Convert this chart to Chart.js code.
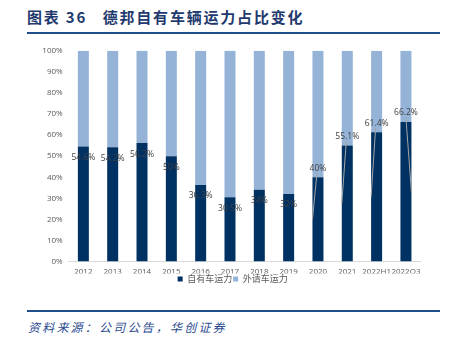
<!DOCTYPE html>
<html>
<head>
<meta charset="utf-8">
<script src="https://cdn.jsdelivr.net/npm/chart.js@4"></script>
<style>
    body { margin: 0; width: 453px; height: 351px; background: #fff; position: relative; overflow: hidden; font-family: "Noto Sans CJK SC", sans-serif; }
    .title { position: absolute; left: 27px; top: 6px; font-size: 15px; font-weight: bold; color: #1f3a6e; letter-spacing: 1.8px; white-space: nowrap; }
    .rule { position: absolute; left: 27px; width: 413px; height: 2px; background: #1f4e8c; }
    .source { position: absolute; left: 28px; top: 318px; font-size: 12px; font-style: italic; color: #2a4a8f; letter-spacing: 2.2px; white-space: nowrap; }
    .wrap { position: absolute; left: 0; top: 40px; width: 453px; height: 256px; }
</style>
</head>
<body>
<div class="title">图表 36&nbsp;&nbsp;&nbsp;德邦自有车辆运力占比变化</div>
<div class="rule" style="top:32px"></div>
<div class="wrap"><canvas id="chart"></canvas></div>
<div class="rule" style="top:310px"></div>
<div class="source">资料来源：公司公告，华创证券</div>
<script>
const categories = ['2012', '2013', '2014', '2015', '2016', '2017', '2018', '2019', '2020', '2021', '2022H1', '2022Q3'];
const ownShare = [54.6, 54.2, 56.2, 50, 36.3, 30.5, 34, 32, 40, 55.1, 61.4, 66.2];
const hiredShare = ownShare.map(v => Math.round((100 - v) * 10) / 10);
const seriesNames = ['自有车运力', '外请车运力'];
const yStep = 10;

// labels of the own-vehicle share, the last four are lifted with a leader line
const shareLabels = {
    id: 'shareLabels',
    afterLayout(chart) {
        // nudge legend a bit to the right, as in the original
        chart.legend.left += 3;
        chart.legend.right += 3;
    },
    afterDatasetsDraw(chart) {
        const ctx = chart.ctx;
        const meta = chart.getDatasetMeta(0);
        const y = chart.scales.y;
        ctx.save();
        ctx.font = '8.5px "Open Sans", sans-serif';
        ctx.textAlign = 'center';
        ctx.textBaseline = 'middle';
        meta.data.forEach((bar, i) => {
            const text = ownShare[i] + '%';
            if (i < 8) {
                ctx.fillStyle = '#404040';
                ctx.fillText(text, bar.x, bar.y + 11);
            } else {
                const ly = bar.y - 9;
                const mid = y.getPixelForValue(ownShare[i] / 2);
                const half = bar.width / 2;
                const endX = i === 11 ? bar.x + half : bar.x - half;
                ctx.strokeStyle = '#a6a6a6';
                ctx.lineWidth = 1;
                ctx.beginPath();
                ctx.moveTo(bar.x - (i === 11 ? 0 : 1), ly + 5);
                ctx.lineTo(endX, mid);
                ctx.stroke();
                ctx.fillStyle = '#404040';
                ctx.fillText(text, bar.x, ly);
            }
        });
        ctx.restore();
    }
};

new Chart(document.getElementById('chart'), {
    type: 'bar',
    data: {
        labels: categories,
        datasets: [{
            label: seriesNames[0],
            data: ownShare,
            backgroundColor: '#003163',
            barPercentage: 0.75,
            categoryPercentage: 0.5
        }, {
            label: seriesNames[1],
            data: hiredShare,
            backgroundColor: '#95b3d7',
            barPercentage: 0.75,
            categoryPercentage: 0.5
        }]
    },
    options: {
        responsive: true,
        maintainAspectRatio: false,
        animation: false,
        layout: {
            padding: { left: 38.7, right: 32.4, top: 4, bottom: 2.5 }
        },
        plugins: {
            legend: {
                position: 'bottom',
                labels: {
                    boxWidth: 5,
                    boxHeight: 5,
                    padding: 1,
                    color: '#595959',
                    font: { size: 9, family: '"Noto Sans CJK SC", sans-serif' }
                }
            },
            tooltip: { enabled: false }
        },
        scales: {
            x: {
                stacked: true,
                afterFit: s => { s.height = 12; },
                grid: { drawOnChartArea: false, drawTicks: false },
                border: { color: '#d9d9d9', width: 1 },
                ticks: {
                    autoSkip: false,
                    maxRotation: 0,
                    padding: 5,
                    color: '#595959',
                    font: { size: 8, family: '"Open Sans", sans-serif' }
                }
            },
            y: {
                stacked: true,
                min: 0,
                max: 100,
                afterFit: s => { s.width = 30; },
                grid: { display: false, drawTicks: false, tickLength: 0 },
                border: { display: false },
                ticks: {
                    stepSize: yStep,
                    padding: 6,
                    color: '#595959',
                    font: { size: 8, family: '"Open Sans", sans-serif' },
                    callback: v => v + '%'
                }
            }
        }
    },
    plugins: [shareLabels]
});
</script>
</body>
</html>
